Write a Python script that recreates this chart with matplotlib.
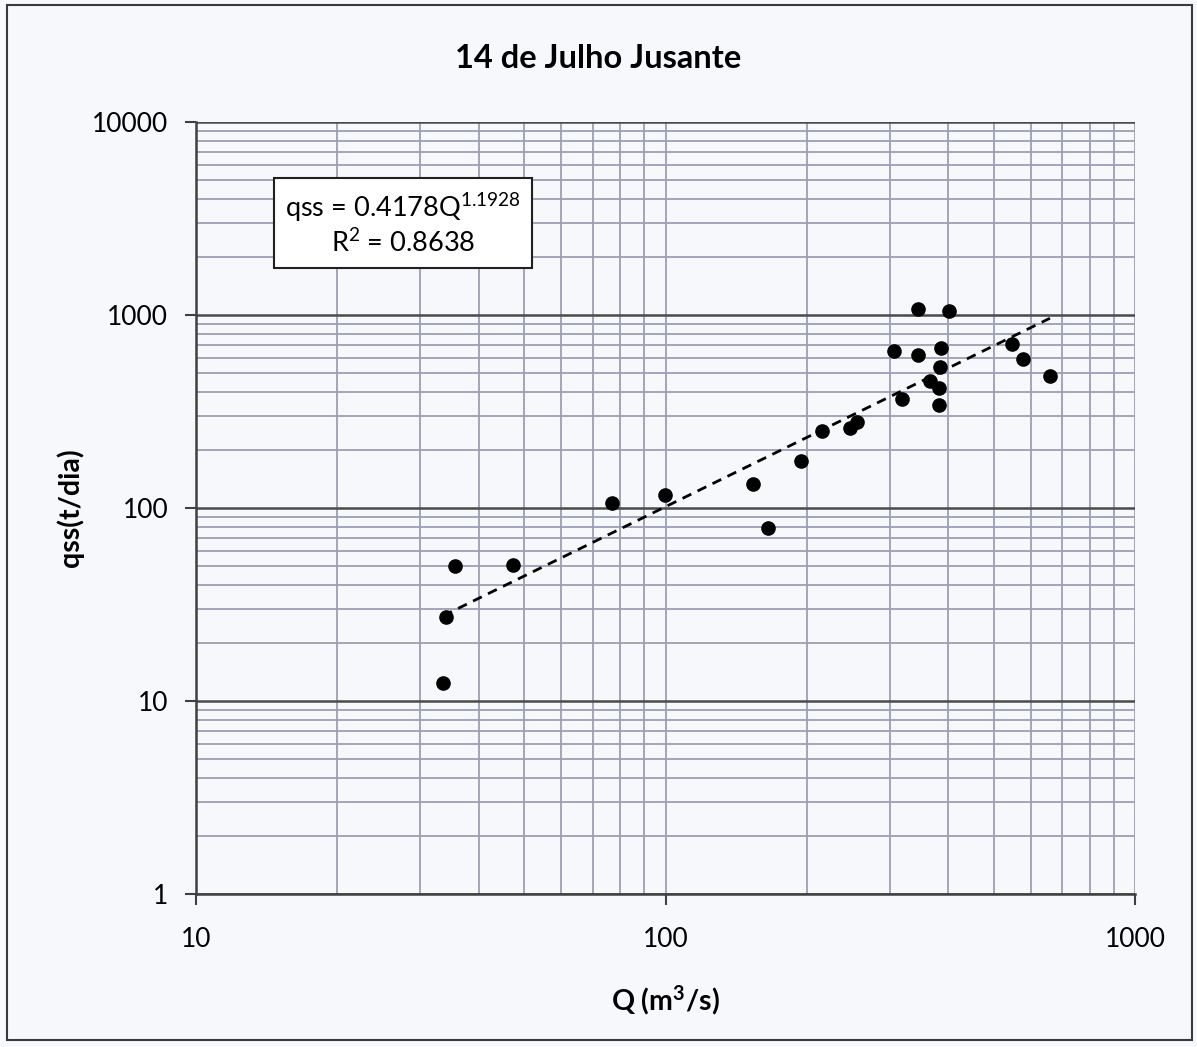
import numpy as np
import matplotlib
matplotlib.use("Agg")
import matplotlib.pyplot as plt
from matplotlib.patches import Rectangle

plt.rcParams['font.family'] = ['Lato', 'DejaVu Sans']
plt.rcParams['mathtext.fontset'] = 'custom'
plt.rcParams['mathtext.rm'] = 'Lato'
plt.rcParams['mathtext.it'] = 'Lato'
plt.rcParams['mathtext.bf'] = 'Lato:bold'

title = "14 de Julho Jusante"
xlabel = r"Q (m$^{\mathbf{3}}$/s)"
ylabel = "qss(t/dia)"

Q = [33.6, 34.0, 35.6, 47.4, 77.1, 99.7, 153.8, 165.5, 194, 215.4, 246.9, 255.6,
     345, 402, 306, 345, 387, 384, 366, 383, 319, 383, 547, 577, 659]
qss = [12.4, 27.2, 50.2, 50.4, 105.7, 117, 133.7, 78.5, 174.6, 251, 258.9, 280,
       1074, 1049, 649, 618, 675, 540, 457, 419, 368, 343, 710, 589, 481]

coef_a = 0.4178
coef_b = 1.1928
r2 = 0.8638

xticks = [10, 100, 1000]
xtick_labels = ["10", "100", "1000"]
yticks = [1, 10, 100, 1000, 10000]
ytick_labels = ["1", "10", "100", "1000", "10000"]

W, H = 1197, 1047
fig = plt.figure(figsize=(W / 100, H / 100), dpi=100)
fig.patch.set_facecolor('#f7f8fc')
fig.patches.append(Rectangle((7 / W, 1 - 1040 / H), (1192 - 7) / W, (1040 - 5) / H,
                             transform=fig.transFigure, fill=False,
                             edgecolor='#3a3a3a', linewidth=1.5))

ax = fig.add_axes([196 / W, 1 - 894 / H, (1135 - 196) / W, (894 - 122) / H])
ax.set_facecolor('#f7f8fc')
ax.set_xscale('log')
ax.set_yscale('log')
ax.set_xlim(10, 1000)
ax.set_ylim(1, 10000)

ax.set_xticks(xticks)
ax.set_xticklabels(xtick_labels)
ax.set_yticks(yticks)
ax.set_yticklabels(ytick_labels)
ax.tick_params(axis='both', which='major', direction='out', length=8, width=1.5,
               color='#404040', labelsize=19, pad=12)
ax.tick_params(axis='x', which='major', pad=16)
ax.tick_params(which='minor', length=0)

ax.grid(True, axis='x', which='both', color='#9d9db5', linewidth=1.3)
ax.grid(True, axis='y', which='minor', color='#9d9db5', linewidth=1.3)
ax.grid(True, axis='y', which='major', color='#4a4a4a', linewidth=1.8)
ax.set_axisbelow(True)

for s in ['top', 'right']:
    ax.spines[s].set_visible(False)
for s in ['left', 'bottom']:
    ax.spines[s].set_color('#404040')
    ax.spines[s].set_linewidth(1.8)

ax.plot(Q, qss, 'o', color='black', markersize=9.5, zorder=4)

xf = np.geomspace(min(Q), max(Q), 100)
ax.plot(xf, coef_a * xf ** coef_b, '--', color='black', linewidth=2,
        dashes=(3.5, 2.5), zorder=3)

fig.text(0.5, 1 - 58 / H, title, ha='center', va='center', fontsize=23.5,
         fontweight='bold')
ax.set_xlabel(xlabel, fontsize=20.5, fontweight='bold', labelpad=22)
ax.set_ylabel(ylabel, fontsize=20.5, fontweight='bold', labelpad=6)

eq = "qss = %.4fQ$^{%.4f}$\nR$^{2}$ = %.4f" % (coef_a, coef_b, r2)
ax.text((403 - 196) / (1135 - 196), 1 - (224 - 122) / (894 - 122), eq,
        transform=ax.transAxes, ha='center', va='center', fontsize=19.5,
        multialignment='center', linespacing=1.25,
        bbox=dict(boxstyle='square,pad=0.4', facecolor='white',
                  edgecolor='#202020', linewidth=1.5), zorder=5)

fig.savefig('out.png', dpi=100, facecolor=fig.get_facecolor())
